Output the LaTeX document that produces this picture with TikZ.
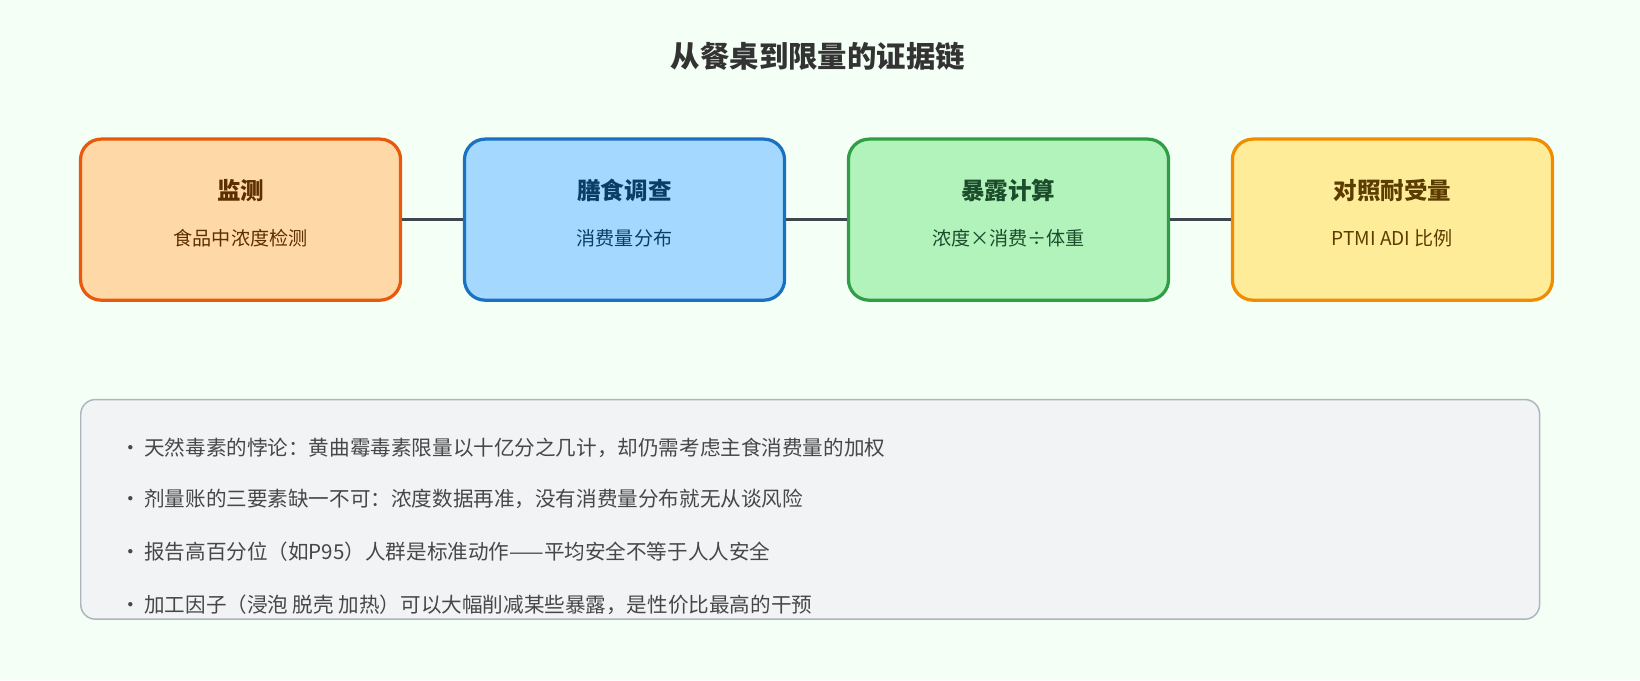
\documentclass[tikz,border=0pt]{standalone}
\usepackage{fontspec}
\setmainfont{Noto Sans CJK SC}
\usetikzlibrary{positioning}
\definecolor{bgc}{HTML}{F4FFF6}
\definecolor{linec}{HTML}{3F464D}
\definecolor{panelf}{HTML}{F1F3F5}
\definecolor{paneld}{HTML}{ADB5BD}
\definecolor{fillA}{HTML}{FFD8A8}\definecolor{drawA}{HTML}{E8590C}\definecolor{textA}{HTML}{5C2E00}
\definecolor{fillB}{HTML}{A5D8FF}\definecolor{drawB}{HTML}{1971C2}\definecolor{textB}{HTML}{0B3D66}
\definecolor{fillC}{HTML}{B2F2BB}\definecolor{drawC}{HTML}{2F9E44}\definecolor{textC}{HTML}{1B4D2B}
\definecolor{fillD}{HTML}{FFEC99}\definecolor{drawD}{HTML}{F08C00}\definecolor{textD}{HTML}{5C3D00}
\tikzset{
  step/.style={draw=draw#1, fill=fill#1, line width=2.2pt, rounded corners=14pt,
    minimum width=7.65cm, minimum height=3.85cm, inner sep=0pt},
  steptitle/.style={font=\fontsize{16}{19}\selectfont\bfseries, text=text#1},
  stepsub/.style={font=\fontsize{13}{16}\selectfont, text=text#1},
  link/.style={draw=linec, line width=2.2pt},
  note/.style={anchor=west, font=\fontsize{14}{17}\selectfont, text=black!72},
}
\begin{document}
\begin{tikzpicture}
  \fill[bgc] (0,0) rectangle (39.2,-16.26);
  \useasboundingbox (0,0) rectangle (39.2,-16.26);
  \node[font=\fontsize{20}{24}\selectfont\bfseries, text=black!80] (title) at (19.55,-1.35) {从餐桌到限量的证据链};
  % steps
  \node[step=A] (mon) at (5.75,-5.25) {};
  \node[step=B, right=1.45cm of mon] (diet) {};
  \node[step=C, right=1.45cm of diet] (expo) {};
  \node[step=D, right=1.45cm of expo] (tol) {};
  \foreach \n/\s/\a/\b in {mon/A/监测/食品中浓度检测, diet/B/膳食调查/消费量分布,
      expo/C/暴露计算/浓度×消费÷体重, tol/D/对照耐受量/PTMI ADI 比例} {
    \node[steptitle=\s] at ([yshift=0.7cm]\n.center) {\a};
    \node[stepsub=\s] at ([yshift=-0.45cm]\n.center) {\b};
  }
  \draw[link] (mon) -- (diet);
  \draw[link] (diet) -- (expo);
  \draw[link] (expo) -- (tol);
  % notes
  \draw[draw=paneld, fill=panelf, line width=1pt, rounded corners=10pt] (1.93,-9.55) rectangle (36.8,-14.8);
  \node[note] (n1) at (2.75,-10.7) {·\,天然毒素的悖论：黄曲霉毒素限量以十亿分之几计，却仍需考虑主食消费量的加权};
  \node[note] (n2) at (2.75,-11.93) {·\,剂量账的三要素缺一不可：浓度数据再准，没有消费量分布就无从谈风险};
  \node[note] (n3) at (2.75,-13.18) {·\,报告高百分位（如P95）人群是标准动作——平均安全不等于人人安全};
  \node[note] (n4) at (2.75,-14.45) {·\,加工因子（浸泡 脱壳 加热）可以大幅削减某些暴露，是性价比最高的干预};
\end{tikzpicture}
\end{document}
